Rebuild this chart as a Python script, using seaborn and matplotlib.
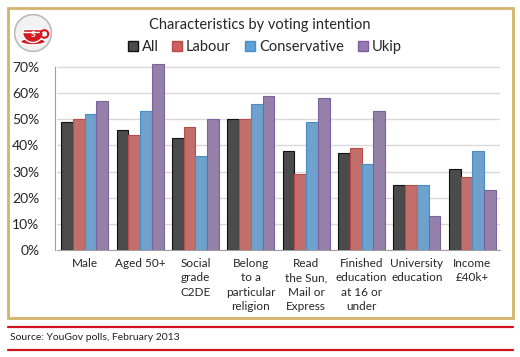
import numpy as np
import pandas as pd
import matplotlib as mpl
import matplotlib.pyplot as plt
import matplotlib.patches as m_patches
from matplotlib.lines import Line2D
import seaborn as sns

# data (percent)
categories = [
    "Male",
    "Aged 50+",
    "Social\ngrade\nC2DE",
    "Belong\nto a\nparticular\nreligion",
    "Read\nthe Sun,\nMail or\nExpress",
    "Finished\neducation\nat 16 or\nunder",
    "University\neducation",
    "Income\n£40k+",
]
parties = ["All", "Labour", "Conservative", "Ukip"]
all_vals = [49, 46, 43, 50, 38, 37, 25, 31]
labour_vals = [50, 44, 47, 50, 29, 39, 25, 28]
conservative_vals = [52, 53, 36, 56, 49, 33, 25, 38]
ukip_vals = [57, 71, 50, 59, 58, 53, 13, 23]

colors = {
    "All": "#4b4b4b",
    "Labour": "#d0605d",
    "Conservative": "#5fa2da",
    "Ukip": "#9579b0",
}
edges = {
    "All": "#111111",
    "Labour": "#b84a48",
    "Conservative": "#4a8cc4",
    "Ukip": "#7d62a0",
}

rows = []
for party, vals in zip(parties, [all_vals, labour_vals, conservative_vals, ukip_vals]):
    for cat, v in zip(categories, vals):
        rows.append({"category": cat, "party": party, "value": v / 100})
df = pd.DataFrame(rows)

sns.set_style("white")
mpl.rcParams["font.family"] = ["Lato", "DejaVu Sans"]

Y_TOP = 0.72
fig = plt.figure(figsize=(5.2, 3.57), dpi=100)
# 0% at y=250px, 70% at y=67px
ax_h = (250 - 67) / 0.7 * Y_TOP / 357
ax = fig.add_axes([0.1096, 1 - 250 / 357, 0.8519, ax_h])

sns.barplot(
    data=df,
    x="category",
    y="value",
    hue="party",
    hue_order=parties,
    palette=colors,
    width=0.85,
    linewidth=0.8,
    ax=ax,
    legend=False,
    zorder=3,
)
# darker outline per series
for cont, party in zip(ax.containers, parties):
    for bar in cont:
        bar.set_edgecolor(edges[party])

ticks = np.arange(0, 0.71, 0.1)
ax.set_ylim(0, Y_TOP)
ax.set_yticks(ticks)
ax.set_yticklabels([f"{int(round(t * 100))}%" for t in ticks], fontsize=11)
ax.tick_params(axis="x", labelsize=8.5, length=0, pad=6)
for lab in ax.get_xticklabels():
    lab.set_linespacing(1.35)
ax.tick_params(axis="y", length=0, pad=11)
ax.set_xlim(-0.5, len(categories) - 0.5)
ax.set_xlabel("")
ax.set_ylabel("")
ax.yaxis.grid(True, color="#d9d9d9", linewidth=1.0, zorder=0)
ax.set_axisbelow(True)
for s in ["top", "right"]:
    ax.spines[s].set_visible(False)
ax.spines["left"].set_color("#a0a0a0")
ax.spines["bottom"].set_color("#a0a0a0")
ax.spines["left"].set_position(("axes", -0.005))
ax.spines["left"].set_bounds(0, 0.7)

# title and legend
fig.text(0.5, 0.93, "Characteristics by voting intention", ha="center", va="center", fontsize=10.5)
handles = [
    Line2D([], [], marker="s", linestyle="", markersize=6.5, markerfacecolor=colors[p],
           markeredgecolor=edges[p]) for p in parties
]
fig.legend(
    handles,
    parties,
    loc="center",
    bbox_to_anchor=(0.508, 0.867),
    ncol=4,
    frameon=False,
    fontsize=10.5,
    handletextpad=0.2,
    columnspacing=0.9,
    handlelength=0.8,
)

# frame around chart area
fig.patches.append(
    m_patches.Rectangle((8 / 520, 1 - 318 / 357), 505 / 520, 310 / 357,
                        transform=fig.transFigure, fill=False,
                        edgecolor="#d4b26a", linewidth=2.0)
)

# logo: cup badge
logo_ax = fig.add_axes([14 / 520, 1 - 52 / 357, 38 / 520, 38 / 357])
logo_ax.set_xlim(-1, 1)
logo_ax.set_ylim(-1, 1)
logo_ax.set_aspect("equal")
logo_ax.axis("off")
logo_ax.add_patch(m_patches.Circle((0, 0), 0.97, facecolor="#f2f2f2", edgecolor="#bbbbbb", linewidth=1.2))
logo_ax.add_patch(m_patches.Ellipse((0, -0.45), 1.3, 0.35, facecolor="#d7191f"))
logo_ax.add_patch(m_patches.Wedge((0, 0.05), 0.55, 180, 360, facecolor="#d7191f"))
logo_ax.add_patch(m_patches.Rectangle((-0.55, 0.05), 1.1, 0.15, facecolor="#d7191f"))
logo_ax.add_patch(m_patches.Circle((0.6, -0.05), 0.2, facecolor="none", edgecolor="#d7191f", linewidth=1.5))
logo_ax.text(0, -0.1, "S", ha="center", va="center", color="white", fontsize=6, fontweight="bold")

# source lines
for y in [327, 350]:
    fig.add_artist(Line2D([8 / 520, 513 / 520], [1 - y / 357, 1 - y / 357],
                          transform=fig.transFigure, color="#d0141b", linewidth=1.6))
fig.text(10 / 520, 1 - 338 / 357, "Source: YouGov polls, February 2013", ha="left", va="center",
         fontsize=7.5, color="#222222")

fig.savefig("out.png", dpi=100, facecolor="white")
